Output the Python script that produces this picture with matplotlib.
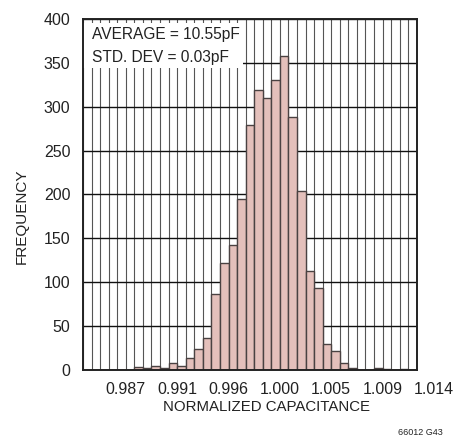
import matplotlib
matplotlib.use("Agg")
import matplotlib.pyplot as plt
from matplotlib.patches import Rectangle
from matplotlib.transforms import blended_transform_factory
import numpy as np

plt.rcParams['font.family'] = ['Liberation Sans', 'DejaVu Sans']

# histogram of normalized capacitance, bin width 0.00075
bin_start = 0.98325
bin_width = 0.00075
counts = [0, 0, 0, 0, 0, 0, 3, 2, 5, 2, 8, 4, 14, 24, 36, 87, 122, 142, 195,
          279, 319, 310, 331, 358, 288, 204, 113, 93, 30, 22, 8, 2, 0, 0, 2, 1,
          0, 1, 0]
x_ticks = [0.987, 0.9915, 0.996, 1.0005, 1.005, 1.0095, 1.014]
x_labels = ["0.987", "0.991", "0.996", "1.000", "1.005", "1.009", "1.014"]
y_ticks = [0, 50, 100, 150, 200, 250, 300, 350, 400]
notes = ["AVERAGE = 10.55pF", "STD. DEV = 0.03pF"]

edges = bin_start + bin_width * np.arange(len(counts) + 1)

fig = plt.figure(figsize=(4.57, 4.36), dpi=100)
ax = fig.add_axes([0.1816, 0.1514, 0.7305, 0.805])

ax.bar(edges[:-1], counts, width=bin_width, align='edge',
       color='#e4c0bb', edgecolor='#4a4242', linewidth=1.0, zorder=2)

ax.set_xlim(edges[0], edges[-1])
ax.set_ylim(0, 400)
ax.set_yticks(y_ticks)
ax.set_xticks([])
ax.set_xticks(edges, minor=True)
ax.grid(True, which='minor', axis='x', color='#555555', linewidth=0.8)
ax.grid(True, which='major', axis='y', color='#111111', linewidth=1.0)
ax.set_axisbelow(True)
ax.tick_params(axis='both', which='both', length=0)
ax.tick_params(axis='y', labelsize=11.5, pad=9, colors='#222222')
for s in ax.spines.values():
    s.set_linewidth(1.4)
    s.set_color('#222222')
    s.set_zorder(5)

# x labels placed by hand (last one sits past the frame)
tr = blended_transform_factory(ax.transData, ax.transAxes)
for xv, lab in zip(x_ticks, x_labels):
    ax.text(xv, -0.057, lab, transform=tr, ha='center', va='center',
            fontsize=11.5, color='#222222', clip_on=False)

# white note box, top left
ax.add_patch(Rectangle((0, 0.860), 0.479, 0.128, transform=ax.transAxes,
                       facecolor='white', edgecolor='none', zorder=4))
ax.text(0.026, 0.942, notes[0], transform=ax.transAxes, fontsize=11.2,
        color='#222222', va='baseline', zorder=6)
ax.text(0.026, 0.878, notes[1], transform=ax.transAxes, fontsize=11.2,
        color='#222222', va='baseline', zorder=6)

fig.text(0.584, 0.0665, "NORMALIZED CAPACITANCE", ha='center', va='center',
         fontsize=10.8, color='#222222')
fig.text(0.048, 0.503, "FREQUENCY", ha='center', va='center', rotation=90,
         fontsize=11, color='#222222')
fig.text(0.969, 0.002, "66012 G43", ha='right', va='baseline', fontsize=6.5,
         color='#222222')

fig.savefig("out.png", dpi=100)
